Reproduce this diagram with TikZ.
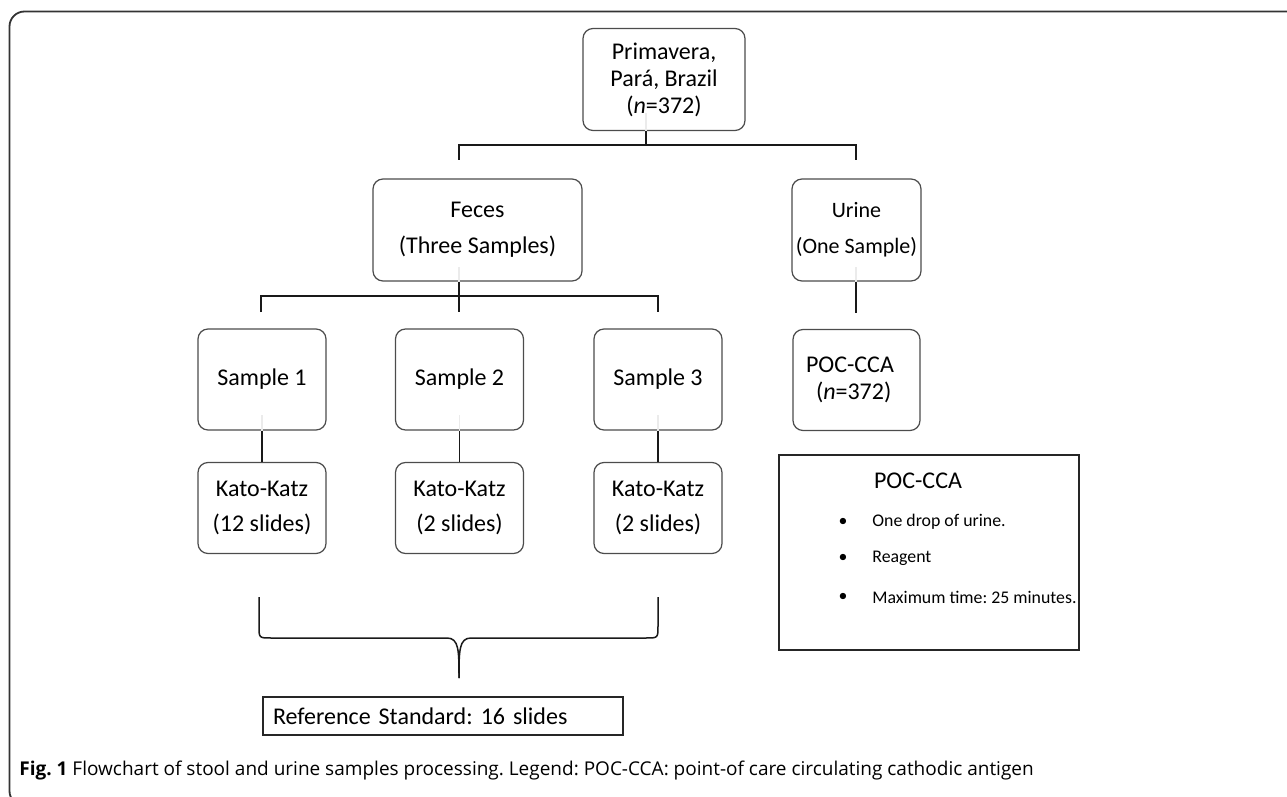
\documentclass[tikz,border=0pt]{standalone}
\usepackage{fontspec}
\setmainfont{Carlito}
\newfontfamily\capfont{Open Sans}
\usepackage{tikz}
\frenchspacing

\begin{document}
\begin{tikzpicture}[x=0.5pt,y=-0.5pt,
  bx/.style={draw=black!70,line width=0.6pt,rounded corners=5pt,minimum width=64pt,minimum height=50.5pt,
    inner sep=0pt,align=center,font=\fontsize{12}{18}\selectfont},
  tb/.style={draw=black!85,line width=1.3pt,inner sep=0pt},
  ln/.style={line width=0.75pt,black!90},
  faint/.style={line width=0.75pt,black!8},
  itm/.style={font=\fontsize{8.9}{12}\selectfont},
  fr/.style={line width=0.9pt,black!80,rounded corners=7.5pt}]
  \useasboundingbox (0,0) rectangle (1287,797);
  \draw[fr] (40,806) -- (9.5,806) -- (9.5,11.5) -- (1300,11.5);
  % top level
  \node[bx,minimum width=81pt,minimum height=51pt,font=\fontsize{12}{13.5}\selectfont] (prim) at (664,79.5)
    {Primavera,\\Pará, Brazil\\(\textit{n}=372)};
  \node[bx,minimum width=104.5pt,minimum height=51pt] (fec) at (477.5,230) {Feces\\(Three Samples)};
  \node[bx,minimum width=64.5pt,minimum height=51pt,font=\fontsize{11}{18}\selectfont] (uri) at (856.5,230)
    {Urine\\(One Sample)};
  \coordinate (j0) at (646,145);
  \coordinate (j1) at (459,145);
  \coordinate (j2) at (856,145);
  \coordinate (d1) at (459,160);
  \coordinate (d2) at (856,160);
  \draw[faint] (prim.south -| j0) -- ++(0,-18);
  \draw[ln] (prim.south -| j0) -- (j0);
  \draw[ln] (d1) -- (j1) -- (j2) -- (d2);
  % samples
  \node[bx] (s1) at (262,379.5) {Sample 1};
  \node[bx] (s2) at (459.5,379.5) {Sample 2};
  \node[bx] (s3) at (658,379.5) {Sample 3};
  \node[bx,minimum width=63.5pt,align=left,text width=50.5pt,font=\fontsize{12}{13.5}\selectfont] (poc)
    at (856.5,380) {POC-CCA\\\hspace*{5pt}(\textit{n}=372)};
  \coordinate (j3) at (459,296);
  \coordinate (j4) at (261,296);
  \coordinate (j5) at (658,296);
  \coordinate (u1) at (856,313);
  \draw[faint] (fec.south -| j3) -- ++(0,-15);
  \draw[faint] (uri.south -| u1) -- ++(0,-15);
  \draw[ln] (fec.south -| j3) -- (j3);
  \draw[ln] (j4) ++(0,16) -- (j4) -- (j5) -- ++(0,16);
  \draw[ln] (j3) -- ++(0,16);
  \draw[ln] (uri.south -| u1) -- (u1);
  % kato-katz
  \node[bx,minimum height=45.5pt,font=\fontsize{12}{17.5}\selectfont] (k1) at (262,508) {Kato-Katz\\(12 slides)};
  \node[bx,minimum height=45.5pt,font=\fontsize{12}{17.5}\selectfont] (k2) at (459.5,508) {Kato-Katz\\(2 slides)};
  \node[bx,minimum height=45.5pt,font=\fontsize{12}{17.5}\selectfont] (k3) at (658,508) {Kato-Katz\\(2 slides)};
  \draw[faint] (s1.south) -- ++(0,-16);
  \draw[faint] (s2.south) -- ++(0,-16);
  \draw[faint] (s3.south) -- ++(0,-16);
  \draw[ln] (s1.south) -- (k1.north);
  \draw[ln] (s2.south) -- (k2.north);
  \draw[ln] (s3.south) -- (k3.north);
  % brace
  \draw[ln] (259,597) -- (259,626) .. controls (259,638) .. (271,638) -- (447,638)
    .. controls (459,638) and (459,651) .. (459,678);
  \draw[ln] (658,597) -- (658,626) .. controls (658,638) .. (646,638) -- (471,638)
    .. controls (459,638) and (459,651) .. (459,678);
  \node[tb,minimum height=19pt,inner xsep=5pt,text width=170pt,align=left,
    font=\fontsize{12}{14}\selectfont] (ref) at (443,716) {Reference Standard: 16 slides};
  % legend
  \node[tb,minimum width=150pt,minimum height=97.5pt] (leg) at (929,552.5) {};
  \node[font=\fontsize{12}{14}\selectfont] (legt) at (918,481) {POC-CCA};
  \node[itm] (b1) at (843,522) {\textbullet};
  \node[itm] (b2) at (843,558) {\textbullet};
  \node[itm] (b3) at (843,597) {\textbullet};
  \node[itm,anchor=west,inner sep=0pt] (l1) at (872,522) {One drop of urine.};
  \node[itm,anchor=west,inner sep=0pt] (l2) at (872,558) {Reagent};
  \node[itm,anchor=west,inner sep=0pt] (l3) at (872,597) {Maximum time: 25 minutes.};
  % caption
  \node[anchor=west,inner sep=0pt,font=\capfont\fontsize{9.5}{11}\selectfont] (cap) at (19,771)
    {\textbf{Fig. 1} Flowchart of stool and urine samples processing. Legend: POC-CCA: point-of care circulating cathodic antigen};
\end{tikzpicture}
\end{document}
